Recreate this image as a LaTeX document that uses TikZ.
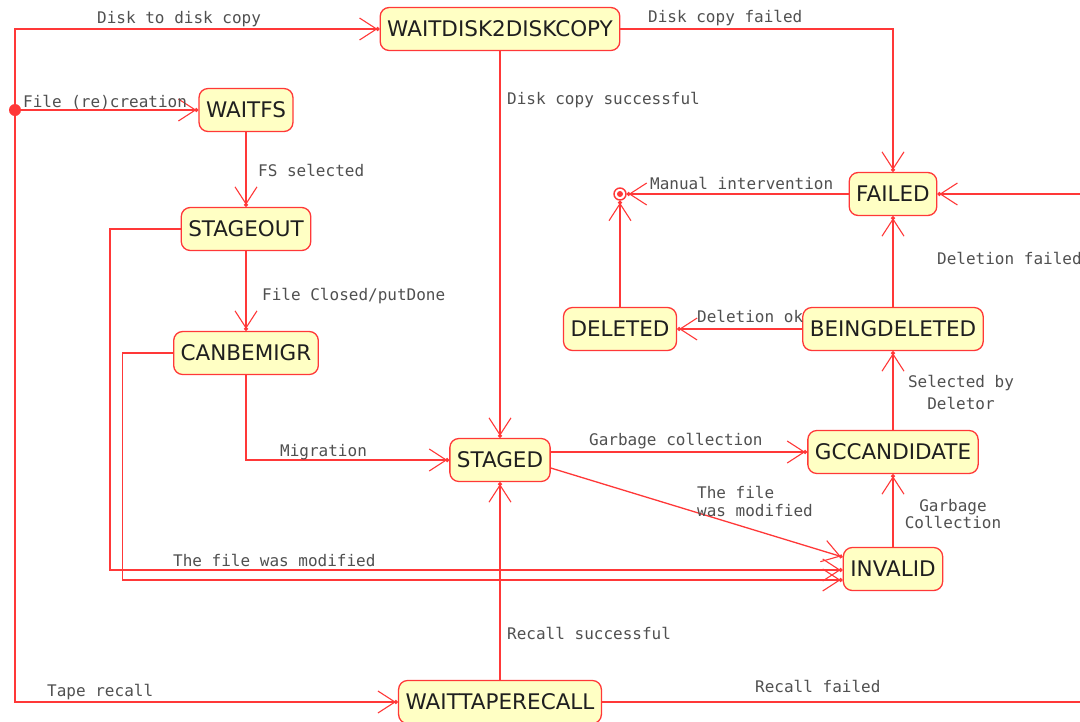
\documentclass[tikz,border=0pt]{standalone}
\usepackage{fontspec}
\usetikzlibrary{arrows.meta}
\newfontfamily\statefont{DejaVu Sans}
\newfontfamily\lblfont{DejaVu Sans Mono}
\definecolor{trred}{RGB}{255,56,56}
\definecolor{statefill}{RGB}{255,255,196}
\definecolor{lblgray}{RGB}{80,80,80}
\tikzset{
  state/.style={draw=trred, fill=statefill, line width=1.3pt, rounded corners=9pt,
    minimum height=43pt, inner xsep=7pt, text=black!88,
    font=\statefont\fontsize{21.5}{24}\selectfont},
  lbl/.style={text=lblgray, font=\lblfont\fontsize{16}{18}\selectfont, inner sep=0pt,
    anchor=base west, align=left},
  tr/.style={draw=trred, line width=1.3pt,
    -{Straight Barb[length=17pt,width=22pt,line width=1.1pt,sep=-2pt]Circle[length=4pt]}},
  ln/.style={draw=trred, line width=1.3pt},
}
\begin{document}
\begin{tikzpicture}[x=1pt,y=-1pt]
\useasboundingbox (0,0) rectangle (1080,721);
\clip (0,0) rectangle (1080,721);
\fill[white] (0,0) rectangle (1080,721);

% states
\node[state] (wd)     at (500,29)  {WAITDISK2DISKCOPY};
\node[state] (waitfs) at (246,110) {WAITFS};
\node[state] (so)     at (246,229) {STAGEOUT};
\node[state] (cbm)    at (246,353) {CANBEMIGR};
\node[state] (staged) at (500,460) {STAGED};
\node[state] (gcc)    at (893,452) {GCCANDIDATE};
\node[state] (inv)    at (893,569) {INVALID};
\node[state] (failed) at (893,194) {FAILED};
\node[state] (bd)     at (893,329) {BEINGDELETED};
\node[state] (del)    at (620,329) {DELETED};
\node[state] (wtr)    at (500,702) {WAITTAPERECALL};

% pseudo states
\node[circle, fill=trred, minimum size=12pt, inner sep=0pt] (init) at (15,110) {};
\node[circle, draw=trred, line width=1.4pt, fill=white, minimum size=12pt, inner sep=0pt] (final) at (620,194) {};
\fill[trred] (final.center) circle (3);
\coordinate (offright) at (1100,702);

% transitions
\draw[tr] (init) -- (waitfs);
\draw[tr] (init.north) |- (wd.west);
\draw[tr] (init.south) |- (wtr.west);
\draw[tr] (waitfs) -- (so);
\draw[tr] (so) -- (cbm);
\draw[tr] (cbm) |- (staged);
\draw[tr] (wd) -- (staged);
\draw[tr] (wd) -| (failed);
\draw[tr] (wtr) -- (staged);
\draw[ln] (wtr) -- (offright);
\draw[tr] (offright) |- (failed.east);
\draw[tr] (bd) -- (failed);
\draw[tr] (failed) -- (final);
\draw[tr] (del) -- (final);
\draw[tr] (bd) -- (del);
\draw[tr] (gcc) -- (bd);
\draw[tr] (staged.east |- gcc) -- (gcc);
\draw[tr] ([yshift=-8pt]staged.east) -- ([yshift=12pt]inv.west);
\draw[tr] (inv) -- (gcc);
\draw[tr] (so.west) -- ++(-70.5,0) |- ([yshift=-1pt]inv.west);
\draw[tr] (cbm.west) -- ++(-50.5,0) |- ([yshift=-11pt]inv.west);

% transition labels
\node[lbl] (l1)  at (97,23)   {Disk to disk copy};
\node[lbl] (l2)  at (23,107)  {File (re)creation};
\node[lbl] (l3)  at (648,22)  {Disk copy failed};
\node[lbl] (l4)  at (507,104) {Disk copy successful};
\node[lbl] (l5)  at (258,176) {FS selected};
\node[lbl] (l6)  at (650,189) {Manual intervention};
\node[lbl] (l7)  at (937,264) {Deletion failed};
\node[lbl] (l8)  at (262,300) {File Closed/putDone};
\node[lbl] (l9)  at (697,322) {Deletion ok};
\node[lbl, align=center, anchor=base] (l10) at (961,409) {Selected by\\[4pt]Deletor};
\node[lbl] (l11) at (280,456) {Migration};
\node[lbl] (l12) at (589,445) {Garbage collection};
\node[lbl] (l13) at (697,516) {The file\\was modified};
\node[lbl, align=center, anchor=base] (l14) at (953,528) {Garbage\\[-1pt]Collection};
\node[lbl] (l15) at (173,566) {The file was modified};
\node[lbl] (l16) at (507,639) {Recall successful};
\node[lbl] (l17) at (47,696)  {Tape recall};
\node[lbl] (l18) at (755,692) {Recall failed};
\end{tikzpicture}
\end{document}
